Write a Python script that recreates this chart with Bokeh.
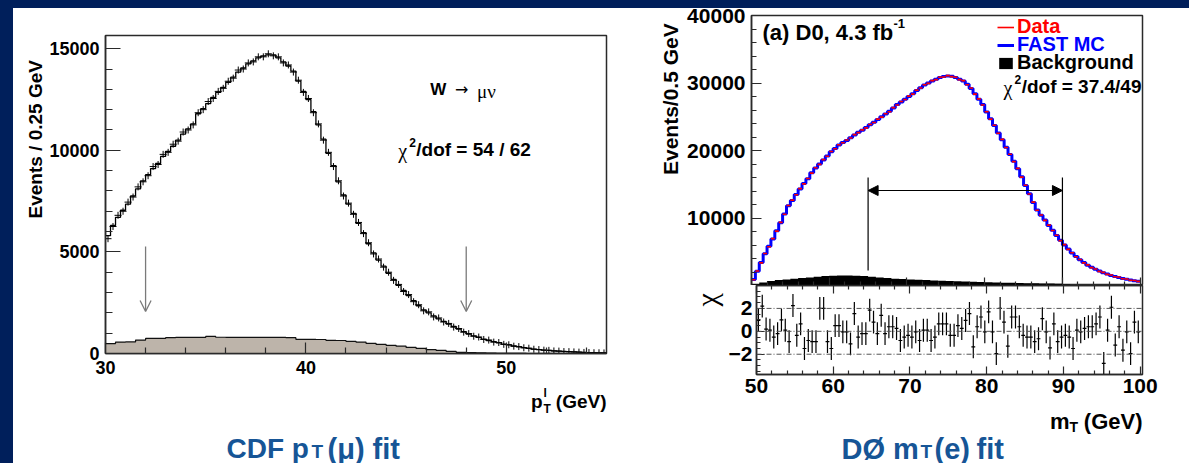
import math
import numpy as np
from bokeh.plotting import figure
from bokeh.layouts import column, row
from bokeh.models import (Range1d, FixedTicker, Label, Arrow, OpenHead, NormalHead,
                          LinearAxis, Span, Legend, LegendItem, Spacer)
from bokeh.embed import file_html
from bokeh.resources import INLINE

NAVY = "#001f5b"
TITLE_BLUE = "#165596"
FRAME = "#2a2a2a"
SANS = "Liberation Sans"
SERIF = "Liberation Serif"

# ---------------- CDF: muon pT, 0.25 GeV bins from 30 to 55 GeV ----------------
cdf_pt_lo, cdf_bin = 30.0, 0.25
cdf_template = [
    5800, 6300, 6700, 7050, 7350, 7750, 8100, 8500, 8800, 9100,
    9350, 9700, 9950, 10200, 10500, 10800, 11050, 11300, 11800, 12050,
    12300, 12600, 12850, 13100, 13350, 13600, 13850, 14050, 14250, 14400,
    14550, 14650, 14700, 14700, 14550, 14350, 14150, 13900, 13400, 12900,
    12500, 11900, 11250, 10550, 9850, 9250, 8450, 7800, 7350, 6900,
    6400, 5950, 5400, 4950, 4600, 4300, 3950, 3650, 3350, 3100,
    2850, 2600, 2350, 2150, 2000, 1850, 1700, 1580, 1450, 1330,
    1200, 1080, 960, 870, 790, 710, 640, 580, 520, 460,
    420, 370, 330, 290, 250, 220, 190, 170, 150, 130,
    115, 100, 90, 80, 65, 55, 45, 40, 35, 30]
cdf_data = [
    5650, 6250, 6800, 7000, 7450, 7700, 8200, 8450, 8750, 9200,
    9300, 9800, 9900, 10300, 10450, 10900, 11000, 11250, 11850, 12000,
    12400, 12550, 12900, 13050, 13400, 13550, 13950, 14000, 14300, 14350,
    14600, 14600, 14750, 14650, 14600, 14300, 14200, 13850, 13450, 12850,
    12550, 11850, 11300, 10500, 9900, 9200, 8500, 7750, 7400, 6850,
    6450, 5900, 5450, 4900, 4650, 4250, 4000, 3600, 3400, 3050,
    2900, 2550, 2400, 2100, 2050, 1800, 1750, 1550, 1480, 1300,
    1230, 1050, 980, 850, 810, 690, 660, 560, 540, 450,
    430, 360, 340, 280, 260, 210, 195, 165, 155, 125,
    118, 95, 92, 78, 68, 52, 47, 38, 36, 28]
# background, 0.5 GeV bins
cdf_bkg_bin = 0.5
cdf_bkg = [
    490, 560, 570, 660, 740, 740, 780, 790, 790, 790,
    840, 800, 790, 790, 790, 790, 790, 790, 780, 700,
    700, 690, 650, 640, 600, 560, 500, 450, 400, 360,
    300, 250, 190, 150, 100, 60, 40, 30, 20, 10,
    5, 3, 0, 0, 0, 0, 0, 0, 0, 0]
cdf_fit_window = [32, 48]
cdf_x_ticks = [30, 40, 50]
cdf_y_ticks = [0, 5000, 10000, 15000]

# ---------------- D0: electron mT, 0.5 GeV bins from 50 to 100 GeV ----------------
d0_mt_lo, d0_bin = 50.0, 0.5
d0_data = [
    850, 2150, 3350, 4750, 5750, 6950, 8050, 9350, 10550, 11850,
    12650, 13450, 14350, 15050, 15850, 16650, 17450, 17950, 18650, 19150,
    19850, 20250, 20850, 21150, 21550, 21850, 22350, 22650, 23050, 23350,
    23850, 24150, 24650, 24950, 25450, 25750, 26350, 26750, 27250, 27550,
    28050, 28350, 28950, 29250, 29750, 29950, 30350, 30500, 30850, 30900,
    31100, 30950, 30850, 30500, 30350, 29750, 29250, 28350, 27650, 26750,
    25750, 24650, 23750, 22550, 21650, 20450, 19450, 18350, 17350, 16050,
    14850, 13550, 12350, 11150, 10450, 9650, 8950, 8150, 7450, 6650,
    6050, 5350, 4850, 4250, 3850, 3350, 3050, 2650, 2450, 2100,
    1950, 1650, 1550, 1300, 1250, 1000, 960, 780, 750, 610]
d0_fastmc = [
    900, 2100, 3400, 4700, 5800, 6900, 8100, 9300, 10600, 11800,
    12600, 13500, 14300, 15100, 15800, 16700, 17400, 18000, 18600, 19200,
    19800, 20300, 20800, 21200, 21500, 21900, 22300, 22700, 23000, 23400,
    23800, 24200, 24600, 25000, 25400, 25800, 26300, 26800, 27200, 27600,
    28000, 28400, 28900, 29300, 29700, 30000, 30300, 30550, 30800, 30950,
    31050, 31000, 30800, 30550, 30300, 29800, 29200, 28400, 27600, 26800,
    25700, 24700, 23700, 22600, 21600, 20500, 19400, 18400, 17300, 16100,
    14800, 13600, 12300, 11200, 10400, 9700, 8900, 8200, 7400, 6700,
    6000, 5400, 4800, 4300, 3800, 3400, 3000, 2700, 2400, 2150,
    1900, 1700, 1500, 1350, 1200, 1050, 920, 820, 720, 640]
# background, 1 GeV bins
d0_bkg_bin = 1.0
d0_bkg = [
    200, 450, 650, 800, 900, 1000, 1100, 1200, 1300, 1400,
    1450, 1500, 1500, 1450, 1400, 1300, 1200, 1100, 1000, 950,
    900, 850, 800, 750, 700, 650, 620, 580, 550, 520,
    480, 450, 420, 400, 380, 350, 320, 300, 280, 250,
    150, 50, 0, 0, 0, 0, 0, 0, 0, 0]
# (data - fast MC) / sigma per bin
d0_chi = [
    0.95, 2.2, 0.2, 0.1, -0.5, -0.2, 1.0, 0.1, -0.9, 2.25,
    -0.35, 0.65, -1.5, -0.8, -0.9, -0.9, 2.0, 2.0, -0.9, -1.5,
    0.5, 0.5, -0.05, -0.05, -1.1, 1.55, -0.5, -0.2, -0.2, 1.85,
    0.8, -0.2, 1.4, -0.2, 0.4, 0.4, 0.25, -0.8, -0.5, -0.35,
    -0.5, -0.05, -0.8, 0.1, 0.1, -0.8, -0.5, 0.65, 0.65, 0.65,
    -0.35, -0.35, 0.5, 0.25, 0.95, 1.55, -1.35, 0.4, 1.25, -0.05,
    1.7, -0.05, -1.95, 2.0, 0.8, -1.3, 1.25, 1.25, 0.4, -0.35,
    -0.5, -0.5, -0.9, -0.65, 1.1, -0.05, -1.45, 0.65, -0.9, -0.5,
    -0.35, -0.5, -1.5, 0.1, -0.05, 0.25, 0.4, 0.4, 0.65, 1.25,
    -2.8, 0.1, 2.1, -1.2, 0.4, -1.65, -0.05, -1.95, 0.8, -0.05]
d0_fit_window = [65, 90]
d0_x_ticks = [50, 60, 70, 80, 90, 100]
d0_y_ticks = [10000, 20000, 30000, 40000]
d0_chi_ticks = [-2, 0, 2]


def edges_of(lo, width, n):
    return lo + width * np.arange(n + 1)


def closed(vals):
    return list(vals) + [vals[-1]]


def panel(width, height, xr, yr, left, right, top, bottom):
    p = figure(width=width, height=height, x_range=xr, y_range=yr,
               toolbar_location=None, output_backend="svg",
               min_border_left=left, min_border_right=right,
               min_border_top=top, min_border_bottom=bottom,
               background_fill_color="white", border_fill_color="white",
               outline_line_color=FRAME, outline_line_width=1.5)
    p.grid.visible = False
    return p


def text_box(x0, x1, y0, y1):
    """White text area whose data coordinates are page pixels (y grows downward)."""
    p = figure(width=x1 - x0, height=y1 - y0, x_range=Range1d(x0, x1), y_range=Range1d(y1, y0),
               x_axis_location=None, y_axis_location=None, toolbar_location=None,
               output_backend="svg", min_border=0, background_fill_color="white",
               border_fill_color="white", outline_line_color=None)
    p.grid.visible = False
    return p


def style_axis(ax, ticks, minor, major_len, minor_len, font_px, standoff):
    ax.ticker = FixedTicker(ticks=list(ticks), minor_ticks=list(minor))
    ax.axis_line_color = FRAME
    ax.axis_line_width = 1.5
    ax.major_tick_line_color = FRAME
    ax.minor_tick_line_color = FRAME
    ax.major_tick_line_width = 1.2
    ax.minor_tick_line_width = 1.2
    ax.major_tick_in = major_len
    ax.major_tick_out = 0
    ax.minor_tick_in = minor_len
    ax.minor_tick_out = 0
    ax.major_label_standoff = standoff
    ax.major_label_text_font = SANS
    ax.major_label_text_font_style = "bold"
    ax.major_label_text_font_size = f"{font_px}px"
    ax.major_label_text_color = "black"
    if font_px == 0:
        ax.major_label_overrides = {t: "" for t in ticks}


def text(p, x, y, s, size, color="black", font=SANS, style="bold",
         align="left", baseline="middle", angle=0.0):
    p.add_layout(Label(x=x, y=y, text=s, text_font=font, text_font_style=style,
                       text_font_size=f"{size}px", text_color=color,
                       text_align=align, text_baseline=baseline, angle=angle))


def minor_steps(lo, hi, step, majors):
    return [v for v in np.arange(lo, hi + 1e-9, step) if all(abs(v - m) > 1e-9 for m in majors)]


# ============================ CDF panel ============================
cdf_xr, cdf_yr = Range1d(30, 55), Range1d(0, 15650)
pl = panel(604, 375, cdf_xr, cdf_yr, 57, 44, 27, 30)


# page-pixel to data helpers (frame spans x 103..606, y 35..353 on the page)
def lx(px):
    return 30 + (px - 103) * 25 / 503


def ly(py):
    return (353 - py) * 15650 / 318


style_axis(pl.xaxis[0], cdf_x_ticks, minor_steps(30, 55, 2, cdf_x_ticks), 11, 6, 18, 7)
style_axis(pl.yaxis[0], cdf_y_ticks, minor_steps(0, 15650, 1000, cdf_y_ticks), 15, 7, 18, 6)

bkg_edges = edges_of(cdf_pt_lo, cdf_bkg_bin, len(cdf_bkg))
pl.varea_step(x=bkg_edges, y1=np.zeros(len(bkg_edges)), y2=closed(cdf_bkg),
              step_mode="after", fill_color="#bdb4aa")
pl.step(bkg_edges, closed(cdf_bkg), mode="after", line_color="#111111", line_width=1.2)

cdf_edges = edges_of(cdf_pt_lo, cdf_bin, len(cdf_template))
cdf_centers = cdf_edges[:-1] + cdf_bin / 2
pl.step(cdf_edges, closed(cdf_template), mode="after", line_color="black", line_width=1.3)
pl.scatter(cdf_centers, cdf_data, marker="cross", size=7, line_color="black", line_width=1.0)

for xw in cdf_fit_window:
    pl.add_layout(Arrow(x_start=xw, y_start=ly(246), x_end=xw, y_end=ly(311),
                        line_color="#7a7a7a", line_width=1.3,
                        end=OpenHead(size=11, line_color="#7a7a7a", line_width=1.3)))

text(pl, lx(429), ly(89), "W", 17)
text(pl, lx(454), ly(89), "\u2192", 16, font="DejaVu Sans", style="normal")
text(pl, lx(476), ly(91), "\u03bc\u03bd", 19, font=SERIF, style="normal")
text(pl, lx(397), ly(150), "\u03c7", 20, font=SERIF, style="normal")
text(pl, lx(408), ly(142), "2", 12)
text(pl, lx(415), ly(149), "/dof = 54 / 62", 19)

ytl = text_box(13, 46, 8, 383)
text(ytl, 35, 37, "Events / 0.25 GeV", 19, align="right", angle=math.pi / 2)

txl = text_box(13, 650, 383, 463)
text(txl, 542, 401, "p", 19, align="right", baseline="alphabetic")
text(txl, 543, 408, "T", 12, baseline="alphabetic")
text(txl, 543, 392, "l", 12, baseline="alphabetic")
text(txl, 606, 401, "(GeV)", 19, align="right", baseline="alphabetic")
text(txl, 226, 448, "CDF p", 28, color=TITLE_BLUE, baseline="alphabetic")
text(txl, 311, 451, "T", 19, color=TITLE_BLUE, baseline="alphabetic")
text(txl, 327, 448, "(\u03bc)", 29, color=TITLE_BLUE, baseline="alphabetic")
text(txl, 372, 448, "fit", 29, color=TITLE_BLUE, baseline="alphabetic")

# ============================ D0 panels ============================
d0_xr = Range1d(50, 100.3)
pm = panel(506, 277, d0_xr, Range1d(0, 40000), 68, 47, 7, 0)
pr = panel(464, 118, d0_xr, Range1d(-3.77, 4.0), 26, 47, 0, 29)


def rx(px):
    return 50 + (px - 751) * 50.3 / 391


def ry(py):
    return (285 - py) * 40000 / 270


d0_minor_x = minor_steps(50, 100, 2, d0_x_ticks)
style_axis(pm.yaxis[0], d0_y_ticks, minor_steps(0, 40000, 2000, d0_y_ticks), 10, 5, 21, 6)
style_axis(pm.xaxis[0], d0_x_ticks, d0_minor_x, 8, 4, 0, 0)
style_axis(pr.xaxis[0], d0_x_ticks, d0_minor_x, 8, 4, 21, 4)
style_axis(pr.yaxis[0], d0_chi_ticks, minor_steps(-3.5, 3.5, 0.5, d0_chi_ticks), 8, 4, 21, 4)
top_ax = LinearAxis()
style_axis(top_ax, d0_x_ticks, d0_minor_x, 8, 4, 0, 0)
pr.add_layout(top_ax, "above")

d0_bkg_edges = edges_of(d0_mt_lo, d0_bkg_bin, len(d0_bkg))
bkg_r = pm.varea_step(x=d0_bkg_edges, y1=np.zeros(len(d0_bkg_edges)), y2=closed(d0_bkg),
                      step_mode="after", fill_color="black")

d0_edges = edges_of(d0_mt_lo, d0_bin, len(d0_fastmc))
d0_centers = d0_edges[:-1] + d0_bin / 2
mc_r = pm.step(d0_edges, closed(d0_fastmc), mode="after", line_color="#0000ff", line_width=3)
data_r = pm.segment(x0=d0_edges[:-1], x1=d0_edges[1:], y0=d0_data, y1=d0_data,
                    line_color="#ff0000", line_width=1.6)

# fit window
pm.segment(x0=d0_fit_window, x1=d0_fit_window, y0=[ry(177)] * 2, y1=[ry(270), ry(284)],
           line_color="black", line_width=1.2)
pm.add_layout(Arrow(x_start=d0_fit_window[0], x_end=d0_fit_window[1], y_start=ry(190), y_end=ry(190),
                    line_color="black", line_width=1.2,
                    start=NormalHead(size=10, fill_color="black", line_color="black"),
                    end=NormalHead(size=10, fill_color="black", line_color="black")))

for lab, rend, col, vy in [("Data", data_r, "#ff0000", 247),
                           ("FAST MC", mc_r, "#0000ff", 229),
                           ("Background", bkg_r, "black", 211)]:
    leg = Legend(items=[LegendItem(label=lab, renderers=[rend])], location=(246, vy),
                 glyph_width=17, glyph_height=14, label_standoff=3, padding=0, margin=0,
                 spacing=0, label_height=14, border_line_alpha=0, background_fill_alpha=0,
                 label_text_font=SANS, label_text_font_style="bold",
                 label_text_font_size="20px", label_text_color=col)
    pm.add_layout(leg)

text(pm, rx(762), ry(32), "(a) D0, 4.3 fb", 22)
text(pm, rx(893), ry(23), "-1", 13)
text(pm, rx(1003), ry(87), "\u03c7", 20, font=SERIF, style="normal")
text(pm, rx(1014), ry(79), "2", 12)
text(pm, rx(1141), ry(86), "/dof = 37.4/49", 19, align="right")

ytr = text_box(650, 683, 8, 285)
text(ytr, 670, 16, "Events/0.5 GeV", 21, align="right", angle=math.pi / 2)

# chi panel
for lvl in d0_chi_ticks:
    pr.add_layout(Span(location=lvl, dimension="width", line_color="#555555",
                       line_width=1, line_dash="5 2 1 2"))
chi = np.array(d0_chi)
pr.segment(x0=d0_centers, x1=d0_centers, y0=chi - 1, y1=chi + 1, line_color="black", line_width=1.2)
pr.segment(x0=d0_centers - d0_bin / 2, x1=d0_centers + d0_bin / 2, y0=chi, y1=chi,
           line_color="black", line_width=1.2)

chif = text_box(650, 725, 285, 403)
text(chif, 706, 304, "\u03c7", 30, font=SERIF, style="normal", align="center", angle=math.pi / 2)

txr = text_box(650, 1189, 403, 463)
text(txr, 1069, 421, "m", 22, align="right", baseline="alphabetic")
text(txr, 1069, 426, "T", 14, baseline="alphabetic")
text(txr, 1142, 421, "(GeV)", 22, align="right", baseline="alphabetic")
text(txr, 841, 448, "D\u00d8 m", 29, color=TITLE_BLUE, baseline="alphabetic")
text(txr, 920, 451, "T", 19, color=TITLE_BLUE, baseline="alphabetic")
text(txr, 934, 448, "(e)", 29, color=TITLE_BLUE, baseline="alphabetic")
text(txr, 976, 448, "fit", 29, color=TITLE_BLUE, baseline="alphabetic")

left_block = column(row(ytl, pl), txl)
right_block = column(row(ytr, pm), row(chif, pr), txr)
layout = column(Spacer(width=1189, height=8, styles={"background-color": NAVY}),
                row(Spacer(width=13, height=455, styles={"background-color": NAVY}),
                    left_block, right_block),
                styles={"background-color": "white"})

open("out.html", "w").write(file_html(layout, INLINE))
